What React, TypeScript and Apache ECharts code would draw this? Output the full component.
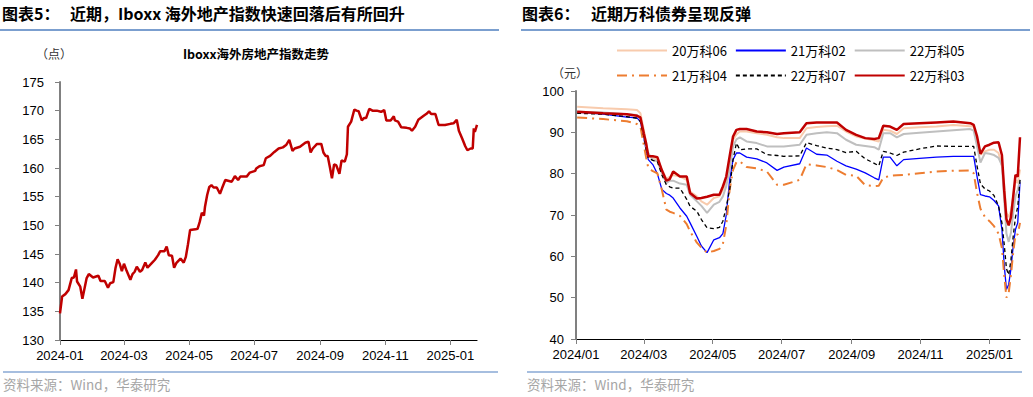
import React, { useEffect, useRef } from "react";
import * as echarts from "echarts";

// ---------- Left chart: Iboxx overseas real-estate index ----------
const IBOXX_DATES = [
  "2024-01-01","2024-01-03","2024-01-06","2024-01-09","2024-01-12","2024-01-14","2024-01-16","2024-01-17","2024-01-20","2024-01-22",
  "2024-01-26","2024-01-28","2024-02-01","2024-02-06","2024-02-08","2024-02-12","2024-02-15","2024-02-17","2024-02-20","2024-02-22",
  "2024-02-24","2024-02-26","2024-02-28","2024-03-01","2024-03-03","2024-03-07","2024-03-09","2024-03-11","2024-03-13","2024-03-16",
  "2024-03-18","2024-03-21","2024-03-23","2024-03-27","2024-03-30","2024-04-02","2024-04-04","2024-04-08","2024-04-10","2024-04-12",
  "2024-04-15","2024-04-17","2024-04-19","2024-04-23","2024-04-26","2024-04-28","2024-04-30","2024-05-02","2024-05-07","2024-05-09",
  "2024-05-11","2024-05-13","2024-05-15","2024-05-16","2024-05-18","2024-05-20","2024-05-22","2024-05-24","2024-05-27","2024-05-30",
  "2024-06-01","2024-06-04","2024-06-10","2024-06-13","2024-06-16","2024-06-18","2024-06-24","2024-06-27","2024-07-02","2024-07-03",
  "2024-07-06","2024-07-10","2024-07-12","2024-07-16","2024-07-20","2024-07-24","2024-07-28","2024-07-31","2024-08-03","2024-08-06",
  "2024-08-08","2024-08-13","2024-08-18","2024-08-21","2024-08-23","2024-08-25","2024-08-29","2024-09-02","2024-09-04","2024-09-06",
  "2024-09-08","2024-09-10","2024-09-12","2024-09-14","2024-09-16","2024-09-19","2024-09-21","2024-09-24","2024-09-26","2024-09-27",
  "2024-09-30","2024-10-03","2024-10-05","2024-10-07","2024-10-10","2024-10-12","2024-10-14","2024-10-17","2024-10-20","2024-10-24",
  "2024-10-28","2024-10-31","2024-11-02","2024-11-06","2024-11-09","2024-11-10","2024-11-13","2024-11-16","2024-11-21","2024-11-24",
  "2024-11-26","2024-11-29","2024-12-02","2024-12-07","2024-12-10","2024-12-12","2024-12-14","2024-12-18","2024-12-21","2024-12-27",
  "2025-01-01","2025-01-04","2025-01-07","2025-01-09","2025-01-12","2025-01-15","2025-01-17","2025-01-20","2025-01-22","2025-01-23",
  "2025-01-24","2025-01-25","2025-01-26",
];
const IBOXX_VALUES = [
  134.65,137.6,138.0,138.7,140.8,140.9,142.3,140.2,139.3,137.2,
  140.8,141.5,140.9,141.2,140.3,140.3,139.1,139.9,140.1,142.5,
  144.1,143.3,142.0,143.3,142.3,140.5,141.5,141.9,142.8,141.9,
  142.2,143.5,142.6,143.4,144.0,144.8,145.5,145.5,146.3,144.8,
  144.7,142.6,143.4,144.2,143.5,144.5,146.7,149.2,149.3,149.4,
  150.6,152.2,151.7,153.3,155.3,156.7,157.0,156.6,156.6,155.5,
  156.5,157.9,157.6,158.6,157.9,158.5,158.5,159.2,159.5,159.9,
  160.3,160.5,161.7,162.1,162.8,163.4,163.6,164.0,164.9,163.0,
  163.4,163.7,164.4,164.6,162.7,163.4,164.2,164.2,162.7,162.1,
  162.1,160.2,158.2,160.6,160.5,159.0,161.3,161.1,162.4,167.2,
  168.1,170.2,170.0,169.9,168.3,168.7,168.7,170.3,170.0,170.0,
  169.8,170.1,168.3,168.3,169.0,168.3,168.1,167.1,167.0,166.9,
  166.5,167.2,168.4,169.1,169.5,169.9,169.4,169.4,167.5,167.5,
  167.7,167.8,168.4,166.5,165.2,163.8,163.1,163.4,163.4,166.9,
  166.3,166.9,167.53,
];
const LEFT_TICKS = ["2024-01-01","2024-03-01","2024-05-01","2024-07-01","2024-09-01","2024-11-01","2025-01-01"];
const LEFT_RANGE = ["2024-01-01", "2025-01-26"];

// ---------- Right chart: Vanke bond prices ----------
const BOND_DATES = [
  "2024-01-02","2024-01-25","2024-02-15","2024-02-24","2024-02-27","2024-03-01","2024-03-03","2024-03-05","2024-03-09","2024-03-13",
  "2024-03-17","2024-03-21","2024-03-24","2024-03-27","2024-04-02","2024-04-08","2024-04-11","2024-04-17","2024-04-21","2024-04-26",
  "2024-05-02","2024-05-07","2024-05-10","2024-05-13","2024-05-16","2024-05-19","2024-05-22","2024-05-25","2024-05-31","2024-06-09",
  "2024-06-18","2024-06-27","2024-07-03","2024-07-17","2024-07-23","2024-08-01","2024-08-10","2024-08-19","2024-08-27","2024-09-05",
  "2024-09-13","2024-09-21","2024-09-25","2024-09-29","2024-10-05","2024-10-11","2024-10-17","2024-10-31","2024-11-15","2024-11-30",
  "2024-12-15","2024-12-18","2024-12-21","2024-12-24","2024-12-28","2025-01-01","2025-01-05","2025-01-09","2025-01-12","2025-01-14",
  "2025-01-16","2025-01-18","2025-01-20","2025-01-22","2025-01-24","2025-01-26","2025-01-28",
];
const V20_06 = [
  96.2,95.8,95.6,95.4,94.6,90.6,87.5,84.5,83.8,83.4,
  81.0,78.8,79.2,79.7,79.3,78.5,75.7,74.5,73.3,72.5,
  74.1,74.5,76.1,78.0,82.0,88.2,89.5,90.2,90.2,89.8,
  89.4,88.8,88.6,88.6,91.0,91.3,91.5,91.6,90.2,89.0,
  88.5,88.1,87.8,90.6,90.4,89.6,91.0,91.2,91.4,91.8,
  91.5,91.4,88.2,84.6,85.4,85.8,85.8,85.0,81.8,77.5,
  70.5,69.5,71.0,74.5,78.5,77.7,81.0,
];
const V21_02 = [
  94.9,94.4,93.7,93.5,92.6,88.6,85.8,83.4,82.2,80.0,
  76.2,75.2,74.8,74.1,71.7,69.7,68.1,64.8,62.5,60.9,
  64.0,64.5,65.5,70.0,78.5,83.4,85.0,85.0,84.0,83.6,
  82.6,80.8,81.6,82.4,86.2,84.7,84.5,83.0,81.9,81.1,
  80.2,79.0,78.5,84.0,84.0,81.9,83.4,83.7,84.0,84.2,
  84.2,84.2,79.3,74.9,74.6,74.4,73.5,72.2,66.5,58.0,
  52.0,53.2,57.0,62.5,66.5,68.1,78.0,
];
const V22_05 = [
  95.0,94.8,94.4,94.2,93.4,89.4,86.5,85.0,83.3,83.0,
  80.1,77.7,78.3,78.3,77.6,77.3,74.9,73.3,72.2,70.5,
  72.5,73.2,74.5,77.0,80.9,86.6,88.3,88.8,87.8,87.4,
  86.6,86.6,86.6,87.0,89.4,89.8,90.0,89.8,88.2,87.0,
  86.7,86.4,85.8,89.8,89.8,88.8,89.6,89.9,90.2,90.5,
  90.8,90.4,86.6,82.7,85.0,84.8,84.5,83.8,82.0,74.0,
  65.5,63.5,65.7,70.5,74.5,76.1,78.5,
];
const V21_04 = [
  93.6,93.2,92.7,92.0,91.4,87.0,84.0,81.4,80.6,80.1,
  76.1,71.3,70.8,70.5,69.8,67.8,66.0,63.3,62.1,60.9,
  61.3,61.8,63.0,67.5,76.1,80.9,82.8,83.0,81.6,81.3,
  80.5,77.3,77.3,78.5,82.3,82.0,81.6,80.9,79.7,79.5,
  77.2,77.0,77.1,79.0,79.5,79.6,79.7,80.1,80.5,80.7,
  80.8,80.1,75.3,71.5,69.5,68.5,67.3,65.5,62.0,55.5,
  50.0,51.2,55.5,61.0,65.3,65.3,68.1,
];
const V22_07 = [
  94.6,94.4,93.8,93.4,92.6,89.0,86.0,83.8,83.2,83.0,
  79.7,77.3,76.8,76.5,76.5,73.8,72.1,70.9,68.9,66.9,
  66.7,67.0,68.5,72.0,76.1,83.4,87.4,85.8,86.0,86.0,
  84.6,84.4,84.2,84.3,87.5,86.8,86.2,85.8,85.1,85.4,
  83.6,82.5,81.9,85.4,85.0,84.4,85.2,86.0,86.7,86.6,
  86.6,86.6,81.8,77.5,76.3,75.8,74.7,72.2,68.1,63.0,
  57.0,55.5,59.2,64.9,69.5,72.0,78.5,
];
const V22_03 = [
  95.0,94.6,94.4,94.0,93.6,89.8,87.4,84.2,84.2,84.0,
  80.8,78.3,78.7,80.5,79.3,79.3,75.3,74.0,74.1,74.4,
  74.9,74.9,76.9,79.3,84.2,89.0,90.6,90.8,90.8,90.2,
  90.0,89.6,89.8,90.0,92.2,92.4,92.4,92.4,90.6,89.4,
  88.6,88.4,88.6,91.6,91.4,90.6,92.0,92.2,92.4,92.6,
  92.2,91.8,89.0,84.8,86.6,87.0,87.5,87.6,84.5,76.0,
  69.0,67.5,69.5,74.5,79.7,79.3,88.8,
];
const BOND_NAMES = ["20万科06", "21万科02", "22万科05", "21万科04", "22万科07", "22万科03"];
const RIGHT_TICKS = ["2024-01-01","2024-03-01","2024-05-01","2024-07-01","2024-09-01","2024-11-01","2025-01-01"];
const RIGHT_RANGE = ["2024-01-01", "2025-01-28"];

const ts = (s: string) => {
  const [y, m, d] = s.split("-").map(Number);
  return new Date(y, m - 1, d).getTime();
};
const fmt = (sep: string) => (v: number) => {
  const d = new Date(v);
  return d.getFullYear() + sep + String(d.getMonth() + 1).padStart(2, "0");
};

const NUM_FONT = "Liberation Sans, Arial, sans-serif";
const CJK_FONT = "Noto Sans CJK SC, sans-serif";

export default function App() {
  const ref = useRef<HTMLDivElement>(null);
  useEffect(() => {
    document.body.style.margin = "0";
    const chart = echarts.init(ref.current!, null, { renderer: "svg" });

    const leftData = IBOXX_DATES.map((d, i) => {
      const item: any = { value: [ts(d), IBOXX_VALUES[i]] };
      if (i === IBOXX_DATES.length - 1) {
        item.label = {
          show: true, position: "top", distance: 16, offset: [-3, 0],
          formatter: String(IBOXX_VALUES[i]), color: "#C00000", fontSize: 13, fontFamily: NUM_FONT,
        };
      }
      return item;
    });
    const bondSeriesValues = [V20_06, V21_02, V22_05, V21_04, V22_07, V22_03];
    const bondStyles: any[] = [
      { color: "#F8CBAD", width: 2 },
      { color: "#0000FF", width: 1.3 },
      { color: "#BFBFBF", width: 2 },
      { color: "#ED7D31", width: 2, type: [10, 5, 2, 5] },
      { color: "#000000", width: 1.3, type: [4, 3] },
      { color: "#C00000", width: 2.5 },
    ];

    const axisLblStyle = { color: "#000", fontSize: 13, fontFamily: NUM_FONT };
    const blue = "#4F7FBF";

    const xAxisFor = (grid: number, range: string[], ticks: string[], sep: string) => ({
      type: "value", gridIndex: grid, min: ts(range[0]), max: ts(range[1]),
      axisLine: { lineStyle: { color: "#000", width: 1.2 } },
      axisTick: { show: true, length: 5, lineStyle: { color: "#808080" }, customValues: ticks.map(ts) },
      axisLabel: { ...axisLblStyle, margin: 9, customValues: ticks.map(ts), formatter: fmt(sep), hideOverlap: false, showMinLabel: true, showMaxLabel: true },
      splitLine: { show: false },
    });

    const legendBase = {
      left: 611, itemWidth: 50, itemHeight: 14, itemGap: 8,
      itemStyle: { opacity: 0 },
      textStyle: { fontSize: 13, color: "#000", fontFamily: CJK_FONT },
    };

    chart.setOption({
      animation: false,
      backgroundColor: "#ffffff",
      textStyle: { fontFamily: CJK_FONT },
      grid: [
        { left: 60, top: 82, width: 417, height: 258 },
        { left: 576, top: 91, width: 444, height: 248 },
      ],
      legend: [
        { ...legendBase, data: BOND_NAMES.slice(0, 3), top: 39 },
        { ...legendBase, data: BOND_NAMES.slice(3), top: 64 },
      ],
      xAxis: [
        xAxisFor(0, LEFT_RANGE, LEFT_TICKS, "-"),
        xAxisFor(1, RIGHT_RANGE, RIGHT_TICKS, "/"),
      ],
      yAxis: [
        {
          type: "value", gridIndex: 0, min: 130, max: 175, interval: 5,
          axisLine: { show: true, lineStyle: { color: "#808080", width: 2 } },
          axisTick: { show: true, length: 5, lineStyle: { color: "#808080" } },
          axisLabel: { ...axisLblStyle, margin: 16 },
          splitLine: { show: false },
        },
        {
          type: "value", gridIndex: 1, min: 40, max: 100, interval: 10,
          axisLine: { show: true, lineStyle: { color: "#808080", width: 2 } },
          axisTick: { show: true, length: 5, lineStyle: { color: "#808080" } },
          axisLabel: { ...axisLblStyle, margin: 12 },
          splitLine: { show: false },
        },
      ],
      series: [
        {
          name: "Iboxx", type: "line", xAxisIndex: 0, yAxisIndex: 0, symbol: "none",
          lineStyle: { color: "#C00000", width: 2.5 }, itemStyle: { color: "#C00000" },
          data: leftData,
        },
        ...BOND_NAMES.map((name, k) => ({
          name, type: "line", xAxisIndex: 1, yAxisIndex: 1, symbol: "none",
          lineStyle: bondStyles[k], itemStyle: { color: bondStyles[k].color },
          data: BOND_DATES.map((d, i) => [ts(d), bondSeriesValues[k][i]]),
        })),
      ],
      graphic: [
        { type: "text", left: 2, top: 5, style: { text: "图表5：", font: `bold 16px ${CJK_FONT}`, fill: "#000" } },
        { type: "text", left: 70, top: 5, style: { text: "近期，Iboxx 海外地产指数快速回落后有所回升", font: `bold 16px ${CJK_FONT}`, fill: "#000" } },
        { type: "line", shape: { x1: 0, y1: 30, x2: 499, y2: 30 }, style: { stroke: blue, lineWidth: 1.5 } },
        { type: "text", left: 522, top: 5, style: { text: "图表6：", font: `bold 16px ${CJK_FONT}`, fill: "#000" } },
        { type: "text", left: 591, top: 5, style: { text: "近期万科债券呈现反弹", font: `bold 16px ${CJK_FONT}`, fill: "#000" } },
        { type: "line", shape: { x1: 521, y1: 30, x2: 1030, y2: 30 }, style: { stroke: blue, lineWidth: 1.5 } },
        { type: "text", x: 256, y: 53, style: { text: "Iboxx海外房地产指数走势", font: `bold 12.5px ${CJK_FONT}`, fill: "#000", align: "center", verticalAlign: "middle" } },
        { type: "text", x: 54, y: 53, style: { text: "（点）", font: `12px ${CJK_FONT}`, fill: "#333", align: "center", verticalAlign: "middle" } },
        { type: "text", x: 570, y: 72, style: { text: "（元）", font: `12px ${CJK_FONT}`, fill: "#333", align: "center", verticalAlign: "middle" } },
        { type: "line", shape: { x1: 3, y1: 372, x2: 498, y2: 372 }, style: { stroke: blue, lineWidth: 1.2 } },
        { type: "line", shape: { x1: 527, y1: 372, x2: 1022, y2: 372 }, style: { stroke: blue, lineWidth: 1.2 } },
        { type: "text", left: 3, top: 377, style: { text: "资料来源：Wind，华泰研究", font: `13.5px ${CJK_FONT}`, fill: "#A6A6A6" } },
        { type: "text", left: 527, top: 377, style: { text: "资料来源：Wind，华泰研究", font: `13.5px ${CJK_FONT}`, fill: "#A6A6A6" } },
      ],
    });
    return () => chart.dispose();
  }, []);
  return <div ref={ref} style={{ width: 1033, height: 397 }} />;
}
